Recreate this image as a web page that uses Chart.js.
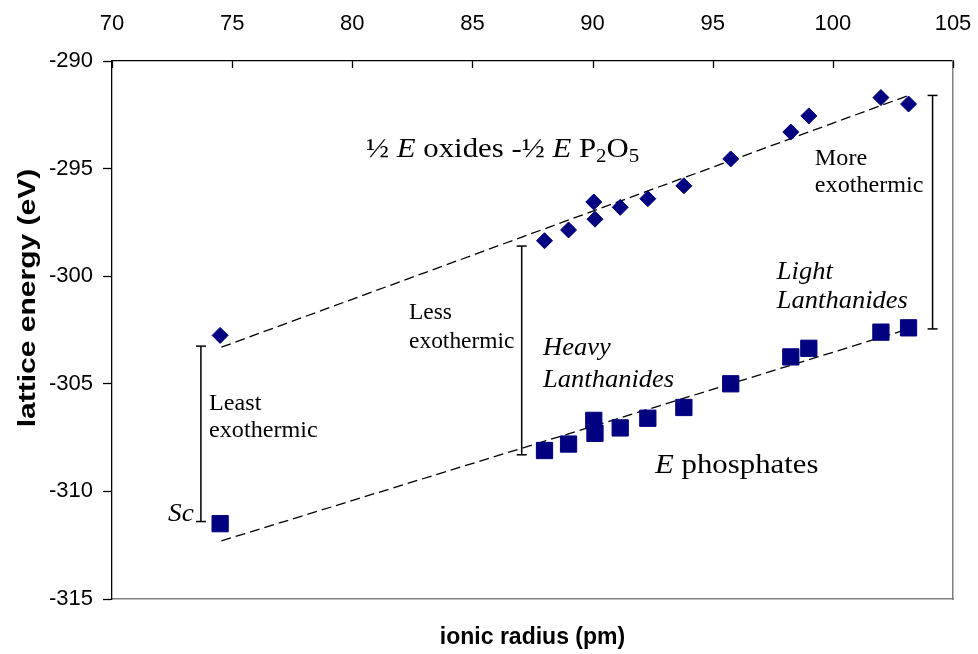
<!DOCTYPE html>
<html>
<head>
<meta charset="utf-8">
<script src="https://cdn.jsdelivr.net/npm/chart.js@4.4.1/dist/chart.umd.min.js"></script>
<style>
  html, body { margin: 0; padding: 0; background: #fff; }
  #wrap { width: 978px; height: 654px; }
</style>
</head>
<body>
<div id="wrap"><canvas id="myChart" width="978" height="654"></canvas></div>
<script>
// ionic radius (pm) of Sc and the lanthanides
var radius = [74.5, 88.0, 89.0, 90.05, 90.1, 91.15, 92.3, 93.8, 95.75, 98.25, 99.0, 102.0, 103.15];
// ½E oxides - ½E P2O5 (eV)
var oxideEnergy = [-302.75, -298.35, -297.85, -296.55, -297.35, -296.8, -296.4, -295.8, -294.55, -293.3, -292.55, -291.7, -292.0];
// E phosphates (eV)
var phosphateEnergy = [-311.5, -308.1, -307.8, -306.7, -307.3, -307.05, -306.6, -306.1, -305.0, -303.75, -303.35, -302.6, -302.4];

// dashed trend lines
var fitRadius = [74.55, 103.15];
var oxideFit = [-303.3, -291.6];
var phosphateFit = [-312.3, -302.45];

// vertical bars: least / less / more exothermic
var gapRadius = [73.7, 87.05, 104.15];
var gapTop = [-303.25, -298.6, -291.6];
var gapBottom = [-311.4, -308.3, -302.45];

var navy = '#000080';

function pts(xs, ys) {
  return xs.map(function (x, i) { return {x: x, y: ys[i]}; });
}

var datasets = [
  {
    label: 'oxides',
    data: pts(radius, oxideEnergy),
    pointStyle: 'rectRot',
    pointRadius: 8,
    backgroundColor: navy,
    borderColor: navy,
    borderWidth: 1
  },
  {
    label: 'phosphates',
    data: pts(radius, phosphateEnergy),
    pointStyle: 'rect',
    pointRadius: 11.5,
    backgroundColor: navy,
    borderColor: navy,
    borderWidth: 1
  },
  {
    label: 'oxide fit',
    data: pts(fitRadius, oxideFit),
    showLine: true,
    pointRadius: 0,
    borderColor: '#000',
    borderWidth: 1.3,
    borderDash: [10, 5]
  },
  {
    label: 'phosphate fit',
    data: pts(fitRadius, phosphateFit),
    showLine: true,
    pointRadius: 0,
    borderColor: '#000',
    borderWidth: 1.3,
    borderDash: [10, 5]
  }
];

// each bar is a two point line with flat caps
gapRadius.forEach(function (x, i) {
  datasets.push({
    label: 'gap' + i,
    data: [{x: x, y: gapTop[i]}, {x: x, y: gapBottom[i]}],
    showLine: true,
    borderColor: '#000',
    borderWidth: 1.5,
    pointStyle: 'line',
    pointRadius: 5,
    pointBorderWidth: 1.5,
    pointBorderColor: '#000',
    pointBackgroundColor: '#000'
  });
});

var serif = '"Liberation Serif", "Times New Roman", serif';
var sans = '"Liberation Sans", Arial, sans-serif';

// text notes, anchored in data units; sx = horizontal stretch of the glyphs
// part: t text, st style, sz size, dy shift (subscripts)
var notes = [
  {x: 99.25, y: -294.83, sx: 1.05, parts: [{t: 'More', sz: 23}]},
  {x: 99.25, y: -296.09, sx: 1.05, parts: [{t: 'exothermic', sz: 23}]},
  {x: 97.67, y: -300.13, sx: 1.06, parts: [{t: 'Light', st: 'italic', sz: 25}]},
  {x: 97.67, y: -301.48, sx: 1.06, parts: [{t: 'Lanthanides', st: 'italic', sz: 25}]},
  {x: 87.94, y: -303.66, sx: 1.06, parts: [{t: 'Heavy', st: 'italic', sz: 25}]},
  {x: 87.94, y: -305.15, sx: 1.06, parts: [{t: 'Lanthanides', st: 'italic', sz: 25}]},
  {x: 82.36, y: -301.99, sx: 1.02, parts: [{t: 'Less', sz: 23}]},
  {x: 82.36, y: -303.34, sx: 1.02, parts: [{t: 'exothermic', sz: 23}]},
  {x: 74.04, y: -306.22, sx: 1.05, parts: [{t: 'Least', sz: 23}]},
  {x: 74.04, y: -307.47, sx: 1.05, parts: [{t: 'exothermic', sz: 23}]},
  {x: 72.33, y: -311.38, sx: 1.05, parts: [{t: 'Sc', st: 'italic', sz: 26}]},
  {x: 92.6, y: -309.14, sx: 1.1, parts: [{t: 'E', st: 'italic', sz: 28}, {t: ' phosphates', sz: 28}]},
  {x: 80.57, y: -294.46, sx: 1.1, parts: [
    {t: '½ ', sz: 28}, {t: 'E', st: 'italic', sz: 28}, {t: ' oxides -½ ', sz: 28},
    {t: 'E', st: 'italic', sz: 28}, {t: ' P', sz: 28},
    {t: '2', sz: 19, dy: 5}, {t: 'O', sz: 28}, {t: '5', sz: 19, dy: 5}
  ]}
];

function drawPart(ctx, text, x, y, sx) {
  ctx.save();
  ctx.translate(x, y);
  ctx.scale(sx, 1);
  ctx.fillText(text, 0, 0);
  ctx.restore();
}

var notePlugin = {
  id: 'notes',
  afterDatasetsDraw: function (chart) {
    var ctx = chart.ctx;
    var xs = chart.scales.x, ys = chart.scales.y;
    ctx.save();
    ctx.fillStyle = '#000';
    ctx.textBaseline = 'alphabetic';
    ctx.textAlign = 'left';
    notes.forEach(function (n) {
      var cur = xs.getPixelForValue(n.x);
      var py = ys.getPixelForValue(n.y);
      n.parts.forEach(function (p) {
        ctx.font = (p.st ? p.st + ' ' : '') + p.sz + 'px ' + serif;
        drawPart(ctx, p.t, cur, py + (p.dy || 0), n.sx);
        cur += ctx.measureText(p.t).width * n.sx;
      });
    });

    // y axis title, a little left of the labels and above the middle
    ctx.save();
    ctx.translate(28, 298);
    ctx.rotate(-Math.PI / 2);
    ctx.scale(1.25, 1);
    ctx.font = 'bold 24px ' + sans;
    ctx.textAlign = 'center';
    ctx.textBaseline = 'middle';
    ctx.fillText('lattice energy (eV)', 0, 0);
    ctx.restore();
    ctx.restore();
  }
};

// Excel style ticks on the top axis point into the plot
var innerTicks = {
  id: 'innerTicks',
  afterDatasetsDraw: function (chart) {
    var ctx = chart.ctx, xs = chart.scales.x;
    ctx.save();
    ctx.strokeStyle = '#000';
    ctx.lineWidth = 1.3;
    xs.ticks.forEach(function (t) {
      var px = Math.round(xs.getPixelForValue(t.value)) + 0.5;
      ctx.beginPath();
      ctx.moveTo(px, xs.bottom);
      ctx.lineTo(px, xs.bottom + 7);
      ctx.stroke();
    });
    ctx.restore();
  }
};

function noPad(s) {
  s.paddingLeft = 0;
  s.paddingRight = 0;
  s.paddingTop = 0;
  s.paddingBottom = 0;
}

var ctx = document.getElementById('myChart').getContext('2d');
var chart = new Chart(ctx, {
  type: 'scatter',
  data: {datasets: datasets},
  plugins: [notePlugin, innerTicks],
  options: {
    responsive: false,
    animation: false,
    layout: {padding: {left: 0, right: 25, top: 0, bottom: 0}},
    plugins: {legend: {display: false}, tooltip: {enabled: false}},
    scales: {
      x: {
        type: 'linear',
        position: 'top',
        min: 70,
        max: 105,
        ticks: {stepSize: 5, color: '#000', font: {family: sans, size: 22}, padding: 24},
        grid: {display: true, drawOnChartArea: false, drawTicks: false},
        border: {color: '#000', width: 1.3},
        afterFit: function (s) { s.height = 61; noPad(s); }
      },
      x2: {
        type: 'linear',
        position: 'bottom',
        min: 70,
        max: 105,
        ticks: {display: false},
        grid: {display: true, drawOnChartArea: false, drawTicks: false},
        border: {color: '#808080', width: 1.5},
        title: {
          display: true,
          text: 'ionic radius (pm)',
          color: '#000',
          font: {family: sans, size: 23, weight: 'bold'},
          padding: {top: 0, bottom: 3}
        },
        afterFit: function (s) { s.height = 55; noPad(s); }
      },
      y: {
        type: 'linear',
        position: 'left',
        min: -315,
        max: -290,
        ticks: {stepSize: 5, color: '#000', font: {family: sans, size: 22}, padding: 10},
        grid: {display: true, drawOnChartArea: false, drawTicks: true, tickLength: 9, color: '#000', tickWidth: 1.3},
        border: {color: '#000', width: 1.3},
        afterFit: function (s) { s.width = 112; noPad(s); }
      },
      y2: {
        type: 'linear',
        position: 'right',
        min: -315,
        max: -290,
        ticks: {display: false},
        grid: {display: true, drawOnChartArea: false, drawTicks: false},
        border: {color: '#808080', width: 1.5},
        afterFit: function (s) { s.width = 0; noPad(s); }
      }
    }
  }
});
</script>
</body>
</html>
